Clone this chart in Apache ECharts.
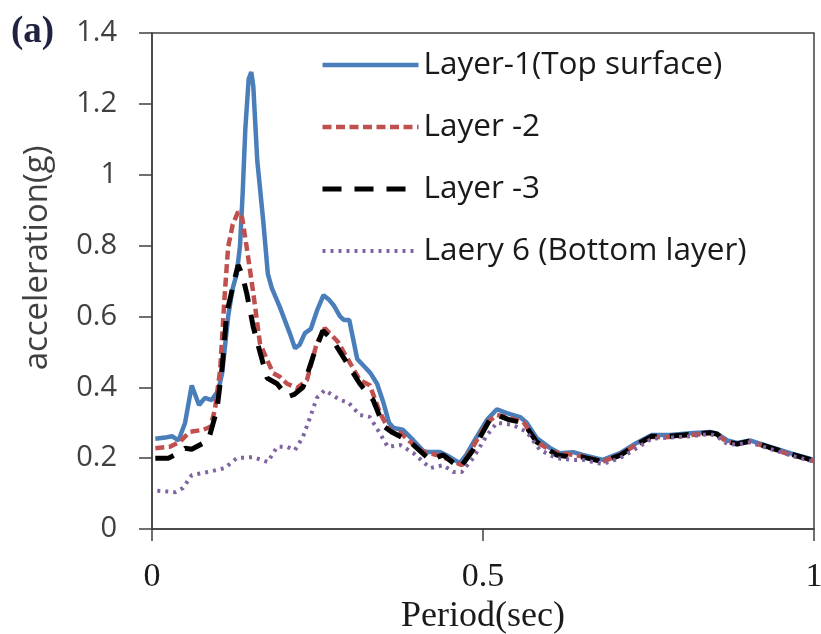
<!DOCTYPE html>
<html>
<head>
<meta charset="utf-8">
<script src="https://cdn.jsdelivr.net/npm/echarts@6/dist/echarts.min.js"></script>
<style>
  html, body { margin: 0; padding: 0; background: #fff; }
  #chart { width: 821px; height: 634px; }
</style>
</head>
<body>
<div id="chart"></div>
<script>
// Response spectra: spectral acceleration (g) against period (sec) for four soil layers
const seriesNames = ['Layer-1(Top surface)', 'Layer -2', 'Layer -3', 'Laery 6 (Bottom layer)'];

const periodL1 = [0.005, 0.02, 0.03, 0.04, 0.05, 0.06, 0.071, 0.08, 0.09, 0.1, 0.106, 0.115, 0.122, 0.128, 0.133, 0.137, 0.141, 0.146, 0.15, 0.153, 0.159, 0.168, 0.175, 0.181, 0.193, 0.208, 0.216, 0.223, 0.231, 0.24, 0.25, 0.259, 0.267, 0.275, 0.284, 0.29, 0.298, 0.31, 0.32, 0.33, 0.34, 0.349, 0.358, 0.365, 0.379, 0.395, 0.41, 0.417, 0.435, 0.45, 0.465, 0.475, 0.485, 0.506, 0.521, 0.536, 0.556, 0.566, 0.581, 0.601, 0.616, 0.636, 0.651, 0.681, 0.707, 0.732, 0.755, 0.782, 0.813, 0.843, 0.853, 0.869, 0.884, 0.903, 0.934, 0.964, 1.0];
const accL1 = [0.255, 0.258, 0.262, 0.25, 0.30, 0.405, 0.35, 0.37, 0.364, 0.39, 0.44, 0.6, 0.68, 0.72, 0.8, 0.95, 1.13, 1.27, 1.29, 1.25, 1.04, 0.87, 0.72, 0.68, 0.627, 0.553, 0.51, 0.52, 0.553, 0.565, 0.62, 0.66, 0.648, 0.63, 0.6, 0.59, 0.59, 0.48, 0.46, 0.44, 0.41, 0.36, 0.3, 0.285, 0.28, 0.25, 0.22, 0.217, 0.217, 0.203, 0.186, 0.21, 0.243, 0.308, 0.338, 0.327, 0.316, 0.3, 0.257, 0.229, 0.214, 0.217, 0.209, 0.195, 0.214, 0.243, 0.265, 0.265, 0.27, 0.274, 0.27, 0.25, 0.243, 0.25, 0.232, 0.214, 0.195];

const periodL2 = [0.005, 0.027, 0.042, 0.057, 0.077, 0.088, 0.095, 0.103, 0.11, 0.115, 0.122, 0.13, 0.136, 0.143, 0.153, 0.163, 0.174, 0.183, 0.193, 0.204, 0.219, 0.234, 0.249, 0.261, 0.281, 0.294, 0.314, 0.329, 0.344, 0.355, 0.364, 0.375, 0.39, 0.41, 0.43, 0.45, 0.468, 0.485, 0.506, 0.521, 0.536, 0.561, 0.581, 0.606, 0.636, 0.651, 0.681, 0.707, 0.732, 0.755, 0.782, 0.813, 0.843, 0.853, 0.869, 0.884, 0.903, 0.934, 0.964, 1.0];
const accL2 = [0.228, 0.232, 0.246, 0.274, 0.28, 0.288, 0.336, 0.45, 0.666, 0.796, 0.86, 0.895, 0.88, 0.796, 0.666, 0.525, 0.477, 0.44, 0.43, 0.41, 0.398, 0.42, 0.525, 0.567, 0.528, 0.485, 0.42, 0.406, 0.33, 0.29, 0.272, 0.272, 0.246, 0.217, 0.209, 0.195, 0.18, 0.232, 0.3, 0.322, 0.316, 0.302, 0.246, 0.217, 0.209, 0.205, 0.19, 0.21, 0.238, 0.26, 0.26, 0.265, 0.27, 0.266, 0.246, 0.24, 0.247, 0.228, 0.21, 0.192];

const periodL3 = [0.005, 0.025, 0.04, 0.05, 0.06, 0.075, 0.085, 0.098, 0.106, 0.113, 0.122, 0.13, 0.136, 0.143, 0.153, 0.163, 0.174, 0.189, 0.205, 0.215, 0.228, 0.243, 0.258, 0.273, 0.289, 0.314, 0.334, 0.35, 0.362, 0.39, 0.42, 0.44, 0.465, 0.485, 0.51, 0.521, 0.54, 0.561, 0.581, 0.611, 0.636, 0.651, 0.681, 0.707, 0.732, 0.755, 0.782, 0.813, 0.843, 0.853, 0.869, 0.884, 0.903, 0.934, 0.964, 1.0];
const accL3 = [0.2, 0.2, 0.215, 0.228, 0.225, 0.24, 0.25, 0.336, 0.457, 0.61, 0.683, 0.745, 0.72, 0.666, 0.57, 0.5, 0.426, 0.41, 0.373, 0.38, 0.4, 0.485, 0.56, 0.533, 0.485, 0.41, 0.364, 0.29, 0.274, 0.246, 0.195, 0.209, 0.172, 0.223, 0.308, 0.322, 0.308, 0.3, 0.246, 0.209, 0.203, 0.203, 0.19, 0.208, 0.238, 0.262, 0.262, 0.267, 0.272, 0.268, 0.246, 0.24, 0.248, 0.23, 0.212, 0.193];

const periodL6 = [0.008, 0.035, 0.047, 0.06, 0.085, 0.11, 0.128, 0.153, 0.175, 0.189, 0.204, 0.216, 0.228, 0.239, 0.249, 0.261, 0.284, 0.296, 0.314, 0.329, 0.344, 0.356, 0.375, 0.395, 0.42, 0.44, 0.455, 0.468, 0.485, 0.506, 0.521, 0.545, 0.566, 0.586, 0.611, 0.636, 0.651, 0.681, 0.707, 0.732, 0.755, 0.782, 0.813, 0.843, 0.853, 0.869, 0.884, 0.903, 0.934, 0.964, 1.0];
const accL6 = [0.108, 0.104, 0.116, 0.152, 0.161, 0.172, 0.2, 0.203, 0.189, 0.232, 0.232, 0.223, 0.26, 0.316, 0.37, 0.392, 0.364, 0.358, 0.322, 0.316, 0.271, 0.232, 0.237, 0.214, 0.172, 0.18, 0.161, 0.161, 0.2, 0.265, 0.3, 0.294, 0.274, 0.223, 0.2, 0.195, 0.195, 0.183, 0.2, 0.228, 0.255, 0.258, 0.262, 0.268, 0.262, 0.24, 0.238, 0.245, 0.226, 0.208, 0.19];

const yTicks = [0, 0.2, 0.4, 0.6, 0.8, 1, 1.2, 1.4];
const xTicks = [0, 0.5, 1];

function pairs(xs, ys) {
  return xs.map(function (x, i) { return [x, ys[i]]; });
}

const lineStyles = [
  { color: '#4A7EBB', width: 4.5, type: 'solid' },
  { color: '#C0504D', width: 4.5, type: [9, 4.5] },
  { color: '#000000', width: 5, type: [19, 13] },
  { color: '#8064A2', width: 4, type: [3, 5] }
];
const seriesData = [pairs(periodL1, accL1), pairs(periodL2, accL2), pairs(periodL3, accL3), pairs(periodL6, accL6)];

const chart = echarts.init(document.getElementById('chart'), null, { renderer: 'canvas' });

chart.setOption({
  animation: false,
  backgroundColor: '#ffffff',
  grid: {
    left: 152, right: 7, top: 33, bottom: 105,
    show: true, borderColor: '#404040', borderWidth: 1.5,
    outerBoundsMode: 'none'
  },
  legend: {
    orient: 'vertical',
    left: 315,
    top: 43,
    itemWidth: 96,
    itemHeight: 14,
    itemGap: 28,
    data: seriesNames,
    itemStyle: { opacity: 0, borderWidth: 0 },
    lineStyle: { width: 'inherit' },
    textStyle: { fontFamily: 'Open Sans', fontSize: 31.5, color: '#1a1a1a', lineHeight: 34 }
  },
  xAxis: {
    type: 'value',
    min: xTicks[0],
    max: xTicks[xTicks.length - 1],
    interval: xTicks[1] - xTicks[0],
    name: 'Period(sec)',
    nameLocation: 'middle',
    nameGap: 60,
    nameTextStyle: { fontFamily: 'Liberation Serif', fontSize: 36, color: '#1a1a1a' },
    axisLine: { lineStyle: { color: '#404040', width: 1.5 } },
    axisTick: { show: true, inside: false, length: 12, lineStyle: { color: '#404040', width: 1.5 } },
    axisLabel: { fontFamily: 'Liberation Serif', fontSize: 34, color: '#1a1a1a', margin: 31 },
    splitLine: { show: false }
  },
  yAxis: {
    type: 'value',
    min: yTicks[0],
    max: yTicks[yTicks.length - 1],
    interval: yTicks[1] - yTicks[0],
    axisLine: { show: true, lineStyle: { color: '#404040', width: 1.5 } },
    axisTick: { show: true, inside: false, length: 13, lineStyle: { color: '#404040', width: 1.5 } },
    axisLabel: { fontFamily: 'Open Sans', fontSize: 29, color: '#404040', margin: 35 },
    splitLine: { show: false }
  },
  graphic: [
    {
      type: 'text',
      left: 11, top: 14,
      style: { text: '(a)', fontFamily: 'Liberation Serif', fontWeight: 'bold', fontSize: 37, fill: '#1f2340' }
    },
    {
      type: 'text',
      x: 38, y: 258,
      rotation: Math.PI / 2,
      style: {
        text: 'acceleration(g)', fontFamily: 'Open Sans', fontSize: 33, fill: '#404040',
        align: 'center', verticalAlign: 'middle'
      }
    }
  ],
  series: seriesNames.map(function (name, i) {
    return {
      name: name,
      type: 'line',
      data: seriesData[i],
      symbol: 'none',
      smooth: false,
      lineStyle: lineStyles[i],
      itemStyle: { color: lineStyles[i].color },
      z: 2 + i
    };
  })
});
</script>
</body>
</html>
